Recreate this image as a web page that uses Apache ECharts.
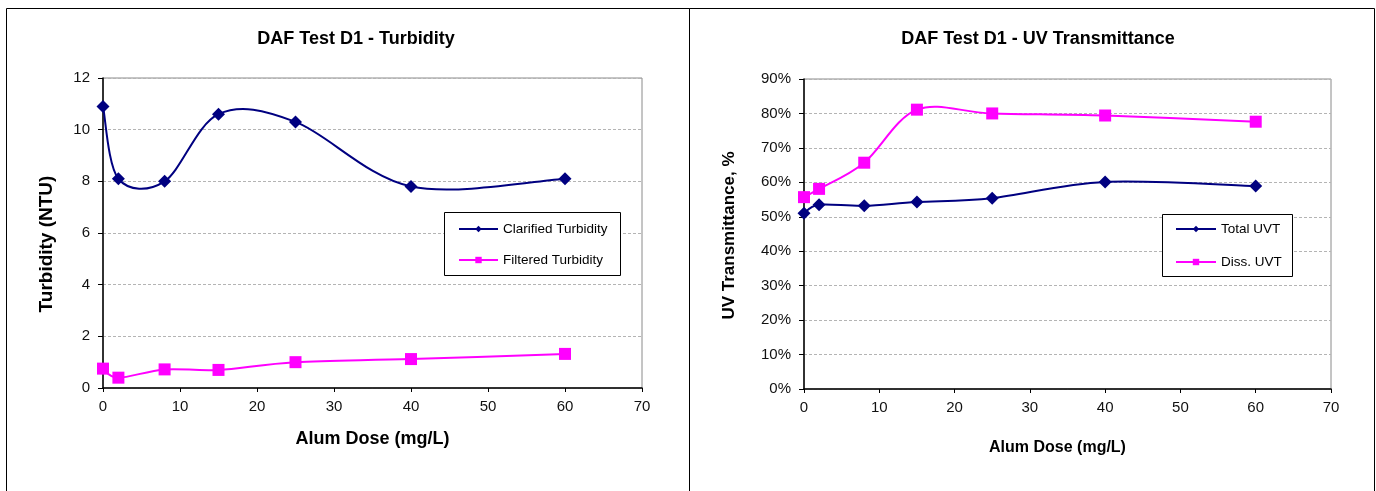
<!DOCTYPE html>
<html>
<head>
<meta charset="utf-8">
<script src="https://cdn.jsdelivr.net/npm/echarts@6/dist/echarts.min.js"></script>
<style>
  html, body { margin: 0; padding: 0; background: #ffffff; }
  #chart { width: 1376px; height: 491px; }
</style>
</head>
<body>
<div id="chart"></div>
<script>
// Alum dose (mg/L) tested in DAF run D1
const doses = [0, 2, 8, 15, 25, 40, 60];

// Turbidity (NTU)
const clarifiedTurbidity = [10.9, 8.1, 8.0, 10.6, 10.3, 7.8, 8.1];
const filteredTurbidity = [0.75, 0.4, 0.72, 0.7, 1.0, 1.12, 1.32];

// UV transmittance (%)
const totalUVT = [51.0, 53.5, 53.2, 54.3, 55.4, 60.1, 58.9];
const dissUVT = [55.7, 58.1, 65.7, 81.1, 80.0, 79.4, 77.6];

// Titles, axis names and series names
const chartTitles = ['DAF Test D1 - Turbidity', 'DAF Test D1 - UV Transmittance'];
const xAxisName = 'Alum Dose (mg/L)';
const yAxisNames = ['Turbidity (NTU)', 'UV Transmittance, %'];
const seriesNames = ['Clarified Turbidity', 'Filtered Turbidity', 'Total UVT', 'Diss. UVT'];

const NAVY = '#000080';
const MAGENTA = '#ff00ff';
const FONT = "'Liberation Sans', Arial, Helvetica, sans-serif";

const pairs = (ys) => doses.map((d, i) => [d, ys[i]]);

function xAxis(gridIndex, nameGap, namePad, nameSize) {
  return {
    type: 'value', gridIndex, min: 0, max: 70, interval: 10,
    name: xAxisName, nameLocation: 'middle', nameGap,
    nameTextStyle: { fontFamily: FONT, fontWeight: 'bold', fontSize: nameSize, color: '#000', padding: namePad },
    axisLine: { show: true, onZero: false, lineStyle: { color: '#000', width: 1.5 } },
    axisTick: { show: true, length: 4, lineStyle: { color: '#000', width: 1 } },
    axisLabel: { fontFamily: FONT, fontSize: 15, color: '#111', margin: 11 },
    splitLine: { show: false }
  };
}

function yAxis(gridIndex, max, name, nameGap, namePad, nameSize, fmt) {
  return {
    type: 'value', gridIndex, min: 0, max, interval: max === 12 ? 2 : 10,
    name, nameLocation: 'middle', nameGap,
    nameTextStyle: { fontFamily: FONT, fontWeight: 'bold', fontSize: nameSize, color: '#000', padding: namePad },
    axisLine: { show: true, onZero: false, lineStyle: { color: '#000', width: 1.5 } },
    axisTick: { show: true, length: 5, lineStyle: { color: '#000', width: 1 } },
    axisLabel: { fontFamily: FONT, fontSize: 15, color: '#111', margin: 13, formatter: fmt },
    splitLine: { show: true, lineStyle: { color: '#b4b4b4', width: 1, type: [3, 2] } }
  };
}

// Markers plus legend entry; the connecting curve is drawn by smoothCurve()
function markerSeries(name, ys, color, symbol, size, xi, yi) {
  return {
    type: 'line', name, data: pairs(ys), xAxisIndex: xi, yAxisIndex: yi,
    symbol, symbolSize: size, showAllSymbol: true,
    lineStyle: { color, width: 2, opacity: 0 },
    itemStyle: { color, borderWidth: 0 },
    emphasis: { disabled: true },
    z: 4
  };
}

// Cardinal (Catmull-Rom, 1/6 tension) spline through the points, in pixel space
function smoothCurve(ys, color, xi, yi) {
  return {
    type: 'custom', xAxisIndex: xi, yAxisIndex: yi, data: pairs(ys), z: 3, silent: true,
    renderItem: function (params, api) {
      const i = params.dataIndex;
      if (i >= doses.length - 1) return null;
      const pt = (k) => {
        const j = Math.max(0, Math.min(doses.length - 1, k));
        return api.coord([doses[j], ys[j]]);
      };
      const p0 = pt(i - 1), p1 = pt(i), p2 = pt(i + 1), p3 = pt(i + 2);
      return {
        type: 'bezierCurve',
        shape: {
          x1: p1[0], y1: p1[1], x2: p2[0], y2: p2[1],
          cpx1: p1[0] + (p2[0] - p0[0]) / 6, cpy1: p1[1] + (p2[1] - p0[1]) / 6,
          cpx2: p2[0] - (p3[0] - p1[0]) / 6, cpy2: p2[1] - (p3[1] - p1[1]) / 6
        },
        style: { stroke: color, lineWidth: 2, fill: 'none' }
      };
    }
  };
}

const legendLine = { width: 2, opacity: 1 };

const chart = echarts.init(document.getElementById('chart'), null, { renderer: 'canvas' });

chart.setOption({
  animation: false,
  backgroundColor: '#ffffff',
  title: [
    { text: chartTitles[0], left: 356, top: 30, textAlign: 'center', padding: 0,
      textStyle: { fontFamily: FONT, fontWeight: 'bold', fontSize: 18, color: '#000' } },
    { text: chartTitles[1], left: 1038, top: 30, textAlign: 'center', padding: 0,
      textStyle: { fontFamily: FONT, fontWeight: 'bold', fontSize: 18, color: '#000' } }
  ],
  grid: [
    { left: 103, top: 78, width: 539, height: 310, show: true, borderColor: '#8a8a8a', borderWidth: 1, backgroundColor: 'transparent' },
    { left: 804, top: 79, width: 527, height: 310, show: true, borderColor: '#8a8a8a', borderWidth: 1, backgroundColor: 'transparent' }
  ],
  xAxis: [
    xAxis(0, 42, [0, 0, 0, 0], 18),
    xAxis(1, 51, [0, 20, 0, 0], 16)
  ],
  yAxis: [
    yAxis(0, 12, yAxisNames[0], 47, [0, 22, 0, 0], 19, '{value}'),
    yAxis(1, 90, yAxisNames[1], 66, [0, 3, 0, 0], 17, '{value}%')
  ],
  legend: [
    { data: [seriesNames[0], seriesNames[1]], orient: 'vertical', left: 458, top: 222, padding: 0, z: 8,
      itemWidth: 39, itemHeight: 8, itemGap: 17, selectedMode: false, lineStyle: legendLine,
      textStyle: { fontFamily: FONT, fontSize: 13.5, color: '#000' } },
    { data: [seriesNames[2], seriesNames[3]], orient: 'vertical', left: 1175, top: 222, padding: 0, z: 8,
      itemWidth: 40, itemHeight: 8, itemGap: 19, selectedMode: false, lineStyle: legendLine,
      textStyle: { fontFamily: FONT, fontSize: 13.5, color: '#000' } }
  ],
  graphic: [
    // panel frames
    { type: 'rect', z: 10, silent: true, shape: { x: 6.5, y: 8.5, width: 683, height: 520 },
      style: { fill: 'none', stroke: '#000', lineWidth: 1 } },
    { type: 'rect', z: 10, silent: true, shape: { x: 689.5, y: 8.5, width: 685, height: 520 },
      style: { fill: 'none', stroke: '#000', lineWidth: 1 } },
    // legend boxes
    { type: 'rect', z: 5, silent: true, shape: { x: 444.5, y: 212.5, width: 176, height: 63 },
      style: { fill: '#fff', stroke: '#000', lineWidth: 1 } },
    { type: 'rect', z: 5, silent: true, shape: { x: 1162.5, y: 214.5, width: 130, height: 62 },
      style: { fill: '#fff', stroke: '#000', lineWidth: 1 } }
  ],
  series: [
    smoothCurve(clarifiedTurbidity, NAVY, 0, 0),
    smoothCurve(filteredTurbidity, MAGENTA, 0, 0),
    smoothCurve(totalUVT, NAVY, 1, 1),
    smoothCurve(dissUVT, MAGENTA, 1, 1),
    markerSeries(seriesNames[0], clarifiedTurbidity, NAVY, 'diamond', 13, 0, 0),
    markerSeries(seriesNames[1], filteredTurbidity, MAGENTA, 'rect', 12, 0, 0),
    markerSeries(seriesNames[2], totalUVT, NAVY, 'diamond', 13, 1, 1),
    markerSeries(seriesNames[3], dissUVT, MAGENTA, 'rect', 12, 1, 1)
  ]
});
</script>
</body>
</html>
